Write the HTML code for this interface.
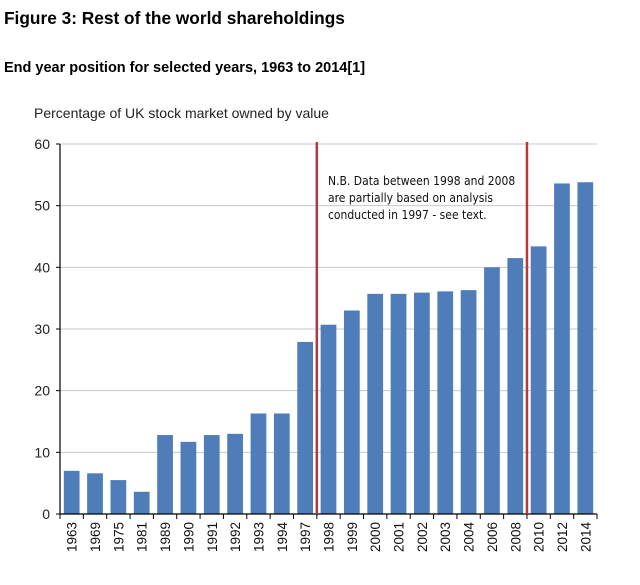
<!DOCTYPE html>
<html><head><meta charset="utf-8"><style>
body{margin:0;background:#fff;width:640px;height:580px;overflow:hidden;font-family:"Liberation Sans",sans-serif}
</style></head><body>
<svg width="640" height="580" xmlns="http://www.w3.org/2000/svg">
<text x="4" y="24" font-size="17.3" font-weight="bold" fill="#000">Figure 3: Rest of the world shareholdings</text>
<text x="4" y="72" font-size="14.5" font-weight="bold" fill="#000">End year position for selected years, 1963 to 2014[1]</text>
<text x="34" y="118" font-size="14" fill="#222">Percentage of UK stock market owned by value</text>
<g id="grid"></g><g id="bars"></g><g id="axes"></g>
<text font-size="12" fill="#111" font-family="'DejaVu Sans Condensed','Liberation Sans Narrow',sans-serif">
<tspan x="328" y="185">N.B. Data between 1998 and 2008</tspan>
<tspan x="328" y="202">are partially based on analysis</tspan>
<tspan x="328" y="219">conducted in 1997 - see text.</tspan>
</text>
</svg>
<script>
const categories=["1963","1969","1975","1981","1989","1990","1991","1992","1993","1994","1997","1998","1999","2000","2001","2002","2003","2004","2006","2008","2010","2012","2014"];
const values=[7,6.6,5.5,3.6,12.8,11.7,12.8,13,16.3,16.3,27.9,30.7,33,35.7,35.7,35.9,36.1,36.3,40,41.5,43.4,53.6,53.8];
const yTicks=[0,10,20,30,40,50,60];
const markerBoundaries=[11,20];
const NS="http://www.w3.org/2000/svg";
const x0=60,x1=597,yb=514,yt=144,ymax=60;
const step=(x1-x0)/categories.length;
const y=v=>yb-(v/ymax)*(yb-yt);
const xb=i=>x0+i*step;
function mk(t,a,p){const e=document.createElementNS(NS,t);for(const k in a)e.setAttribute(k,a[k]);p.appendChild(e);return e;}
const grid=document.getElementById('grid'),bars=document.getElementById('bars'),axes=document.getElementById('axes');
yTicks.forEach(v=>{
 if(v>0){const g=mk('line',{x1:x0,x2:x1,y1:y(v),y2:y(v),stroke:'#c8c8c8','stroke-width':1},grid);
 
 }
 const tk=mk('line',{x1:x0-4,x2:x0,y1:y(v),y2:y(v),stroke:'#000'},axes);
 
 
 const t=mk('text',{x:x0-10,y:y(v)+5,'text-anchor':'end','font-size':14,fill:'#222'},axes);
 t.textContent=v;
 
 
});
values.forEach((v,i)=>{
 const r=mk('rect',{x:xb(i)+3.8,width:step-7.6,y:y(v),height:yb-y(v),fill:'#4f7dba'},bars);
 
 
 const cx=xb(i)+step/2+5,cy=522;
 const t=mk('text',{x:cx,y:cy,'text-anchor':'end','font-size':13.5,fill:'#111',transform:`rotate(-90 ${cx} ${cy})`},axes);
 t.textContent=categories[i];
 
 
});
for(let i=0;i<=categories.length;i++){
 const tk=mk('line',{x1:xb(i),x2:xb(i),y1:yb,y2:yb+5,stroke:'#000'},axes);
 
 
}
const ya=mk('line',{x1:x0,x2:x0,y1:yt,y2:yb,stroke:'#000','stroke-width':1.2},axes);


const xa=mk('line',{x1:x0,x2:x1,y1:yb,y2:yb,stroke:'#000','stroke-width':1.2},axes);


markerBoundaries.forEach(b=>{
 const l=mk('line',{x1:xb(b),x2:xb(b),y1:yt-2,y2:yb,stroke:'#b33a3a','stroke-width':2.5},axes);
 
 
});
</script>
</body></html>
